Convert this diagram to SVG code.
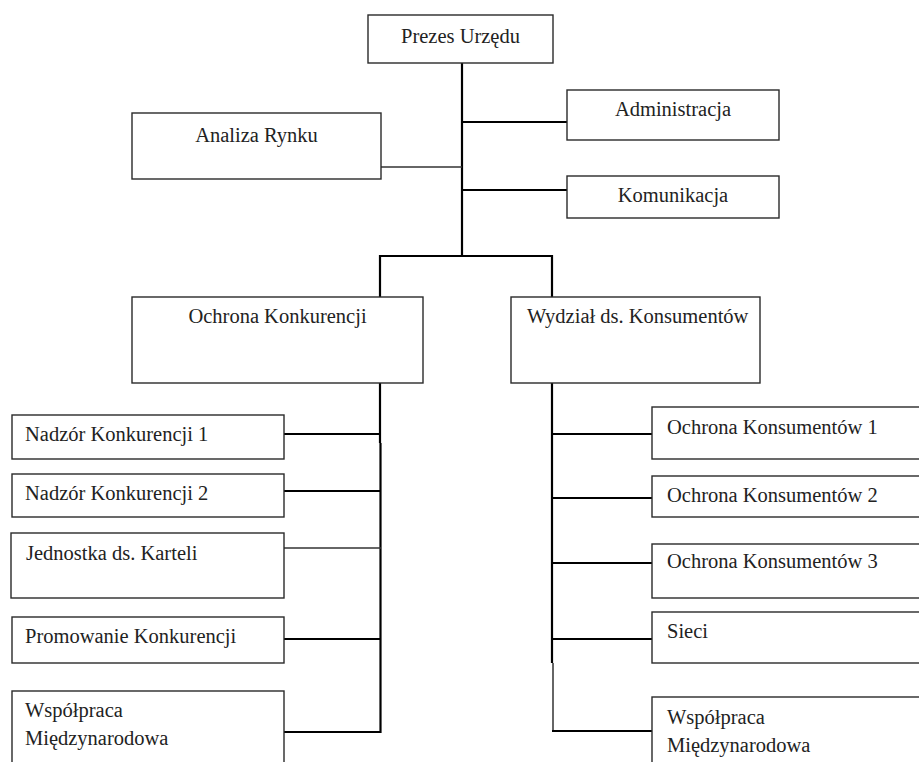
<svg xmlns="http://www.w3.org/2000/svg" width="919" height="762" viewBox="0 0 919 762">
<style>
.box{fill:#fff;stroke:#2a2a2a;stroke-width:1.4}
.t{font-family:"Liberation Serif","Times New Roman",serif;font-size:20.5px;fill:#222}
.c{text-anchor:middle}
.ln{stroke:#000;stroke-width:2.2;fill:none}
.thin{stroke:#333;stroke-width:1.5;fill:none}
</style>
<rect width="919" height="762" fill="#fff"/>
<g id="connectors">
<line class="ln" x1="462" y1="63" x2="462" y2="256"/>
<line class="ln" x1="462" y1="122" x2="567" y2="122"/>
<line class="ln" x1="462" y1="190" x2="567" y2="190"/>
<line class="thin" x1="381" y1="167" x2="462" y2="167"/>
<polyline class="ln" points="380,297 380,256 552,256 552,297"/>
<line class="ln" x1="380" y1="383" x2="380" y2="443"/>
<line class="ln" x1="380.5" y1="443" x2="380.5" y2="733"/>
<line class="ln" x1="284" y1="434" x2="380" y2="434"/>
<line class="ln" x1="284" y1="491" x2="381" y2="491"/>
<line class="thin" x1="284" y1="548" x2="381" y2="548"/>
<line class="ln" x1="284" y1="639" x2="381" y2="639"/>
<line class="ln" x1="284" y1="732" x2="381" y2="732"/>
<line class="ln" x1="552" y1="383" x2="552" y2="663"/>
<line class="thin" x1="553" y1="663" x2="553" y2="731"/>
<line class="ln" x1="552" y1="434" x2="652" y2="434"/>
<line class="ln" x1="552" y1="498" x2="652" y2="498"/>
<line class="ln" x1="552" y1="563" x2="652" y2="563"/>
<line class="ln" x1="552" y1="639" x2="652" y2="639"/>
<line class="ln" x1="552" y1="731" x2="652" y2="731"/>
</g>
<g id="prezes"><rect class="box" x="368" y="15" width="185" height="48"/><text class="t c" x="460.5" y="43">Prezes Urzędu</text></g>
<g id="analiza"><rect class="box" x="132" y="113" width="249" height="66"/><text class="t c" x="256.5" y="142">Analiza Rynku</text></g>
<g id="administracja"><rect class="box" x="567" y="90" width="212" height="50"/><text class="t c" x="673" y="116">Administracja</text></g>
<g id="komunikacja"><rect class="box" x="567" y="176" width="212" height="42"/><text class="t c" x="673" y="202">Komunikacja</text></g>
<g id="ochrona-konkurencji"><rect class="box" x="132" y="297" width="291" height="86"/><text class="t c" x="277.5" y="323">Ochrona Konkurencji</text></g>
<g id="wydzial"><rect class="box" x="511" y="297" width="249" height="86"/><text class="t" x="527" y="323">Wydział ds. Konsumentów</text></g>
<g id="nadzor1"><rect class="box" x="12" y="415" width="272" height="44"/><text class="t" x="25" y="441">Nadzór Konkurencji 1</text></g>
<g id="nadzor2"><rect class="box" x="12" y="474" width="272" height="43"/><text class="t" x="25" y="500">Nadzór Konkurencji 2</text></g>
<g id="kartele"><rect class="box" x="11" y="533" width="273" height="65"/><text class="t" x="26" y="560">Jednostka ds. Karteli</text></g>
<g id="promowanie"><rect class="box" x="12" y="617" width="272" height="46"/><text class="t" x="25" y="643">Promowanie Konkurencji</text></g>
<g id="wspolpraca-l"><rect class="box" x="12" y="691" width="272" height="80"/><text class="t" x="25" y="717">Współpraca</text><text class="t" x="25" y="745">Międzynarodowa</text></g>
<g id="ok1"><rect class="box" x="652" y="407" width="280" height="52"/><text class="t" x="667" y="434">Ochrona Konsumentów 1</text></g>
<g id="ok2"><rect class="box" x="652" y="476" width="280" height="41"/><text class="t" x="667" y="502">Ochrona Konsumentów 2</text></g>
<g id="ok3"><rect class="box" x="652" y="544" width="280" height="54"/><text class="t" x="667" y="568">Ochrona Konsumentów 3</text></g>
<g id="sieci"><rect class="box" x="652" y="612" width="280" height="51"/><text class="t" x="667" y="638">Sieci</text></g>
<g id="wspolpraca-r"><rect class="box" x="652" y="697" width="280" height="80"/><text class="t" x="667" y="724">Współpraca</text><text class="t" x="667" y="752">Międzynarodowa</text></g>
</svg>
